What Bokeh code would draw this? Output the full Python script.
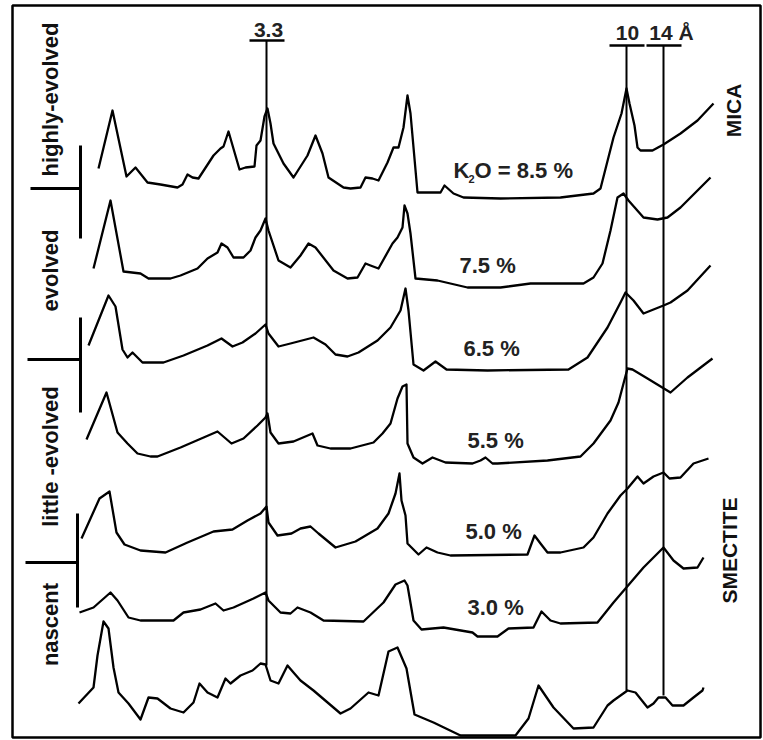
import math
from bokeh.plotting import figure
from bokeh.models import Range1d
from bokeh.core.properties import value
from bokeh.embed import file_html
from bokeh.resources import INLINE

# ---- XRD traces (x = position across pattern, y = plotted height, image-like units, top down)
t1_x = [98,112,126,135,147,160,177,182,187,192,198,213,220,223,228,239,245,254,256,260,264,267,270,273,283,293,300,307,315,322,328,343,350,360,365,372,378,387,393,398,403,407,410,417,440,444,453,463,500,560,593,600,613,621,626,629,634,637,640,652,663,680,697,713]
t1_y = [168,110,176,167,182,184,187,184,174,177,178,155,148,146,131,169,167,166,145,140,116,108,123,143,163,177,166,155,135,153,177,187,188,187,177,178,180,162,147,147,127,95,113,192,192,185,193,197,198,197,193,188,137,113,88,103,125,147,150,150,144,133,120,103]

t2_x = [93,110,123,140,148,170,180,197,207,217,221,227,233,243,250,255,260,265,268,278,290,300,308,315,333,347,357,365,370,378,392,397,402,404,407,410,415,437,467,500,530,583,593,602,610,617,623,628,643,657,667,680,697,710]
t2_y = [268,200,271,273,278,278,275,268,258,252,243,247,257,257,250,237,230,218,230,260,267,255,243,247,270,278,277,263,265,268,243,237,227,205,213,233,278,280,287,287,283,283,277,263,230,197,193,200,217,219,217,207,190,177]

t3_x = [88,108,115,122,127,132,142,163,183,207,221,232,242,255,265,268,278,290,313,325,335,347,358,377,390,400,405,408,413,423,435,446,487,568,587,607,620,625,633,643,663,670,687,710]
t3_y = [345,295,306,349,357,352,362,362,355,345,338,346,342,333,324,333,346,343,337,344,354,356,352,340,327,310,288,310,364,370,361,369,370,369,357,327,302,292,300,313,305,302,290,265]

t4_x = [86,106,117,127,137,150,157,180,217,231,243,257,265,267,270,278,293,312,317,330,350,373,382,390,397,402,406,407,413,422,432,445,472,480,485,492,497,547,580,593,610,618,623,627,632,647,670,687,712]
t4_y = [439,392,432,443,453,456,456,447,431,443,438,425,417,413,432,443,441,433,445,448,448,442,433,423,398,386,384,443,457,463,457,462,463,460,457,463,463,460,456,443,420,402,383,368,369,378,392,377,358]

t5_x = [81,99,109,116,124,140,165,187,213,232,247,260,266,268,277,291,300,310,318,335,355,377,388,395,399,401,405,407,418,426,437,450,527,534,540,547,560,583,593,607,620,627,637,643,653,663,669,680,693,708]
t5_y = [538,498,491,532,544,550,552,542,531,529,520,513,506,522,535,533,528,526,533,547,541,528,513,493,473,500,515,543,554,547,552,555,554,535,543,552,552,547,537,513,495,488,476,483,476,472,478,477,463,458]

t6_x = [79,93,110,117,128,140,173,183,200,215,223,233,253,265,268,280,290,297,310,323,363,383,395,404,407,413,421,443,472,477,497,508,533,541,550,560,597,613,625,643,663,673,683,697,703]
t6_y = [612,607,592,600,617,620,620,612,609,603,610,607,598,592,600,612,613,607,612,620,621,602,584,580,585,620,629,627,632,636,636,628,627,611,620,623,622,602,588,567,547,560,568,567,557]

t7_x = [78,93,97,103,108,113,118,128,140,148,157,170,183,193,199,207,217,225,230,240,252,260,265,270,278,287,293,300,313,340,350,368,378,388,397,406,414,433,460,515,528,538,553,573,593,607,613,627,635,647,653,658,665,672,683,693,702,703]
t7_y = [703,687,655,621,628,667,692,703,719,697,698,708,712,702,683,692,697,678,683,675,670,663,664,680,683,665,672,680,690,713,708,692,695,651,647,668,714,722,735,735,718,685,707,728,727,705,700,690,692,707,703,697,697,705,705,697,690,687]

traces_x = [t1_x, t2_x, t3_x, t4_x, t5_x, t6_x, t7_x]
traces_y = [t1_y, t2_y, t3_y, t4_y, t5_y, t6_y, t7_y]

# K2O labels
k2o_labels = ["7.5 %", "6.5 %", "5.5 %", "5.0 %", "3.0 %"]
k2o_x = [459, 463, 467, 465, 467]
k2o_y = [265, 348, 440, 531, 607]

# d-spacing reference lines
ref_labels = ["3.3", "10", "14 Å"]
ref_x = [266, 626, 663]
ref_top = [40, 45, 45]
ref_bottom = [665, 690, 695]
ref_label_x = [268, 627, 671]
ref_label_y = [29, 32, 32]

# evolution stages
stage_labels = ["highly-evolved", "evolved", "little -evolved", "nascent"]
stage_y = [99, 270, 456, 624]
bracket_x = [80, 80, 77]
bracket_top = [145, 317, 513]
bracket_bottom = [238, 412, 607]
bracket_tick_y = [188, 359, 562]
bracket_tick_left = [30, 27, 25]

FONT = value("Liberation Sans")

p = figure(width=763, height=740, x_range=Range1d(12, 760), y_range=Range1d(737, 5),
           output_backend="svg", toolbar_location=None,
           x_axis_location=None, y_axis_location=None,
           min_border_left=12, min_border_right=3, min_border_top=5, min_border_bottom=3)
p.xgrid.visible = False
p.ygrid.visible = False
p.outline_line_color = "black"
p.outline_line_width = 2.5
p.background_fill_color = "white"
p.border_fill_color = "white"

for xs, ys in zip(traces_x, traces_y):
    p.line(xs, ys, line_color="black", line_width=2.3, line_join="round")

# reference lines and bars
p.segment(x0=ref_x, y0=ref_top, x1=ref_x, y1=ref_bottom, line_color="black", line_width=2)
p.segment(x0=[x - 17 for x in ref_x], y0=ref_top, x1=[x + 18 for x in ref_x], y1=ref_top,
          line_color="black", line_width=2.3)
p.text(x=ref_label_x, y=ref_label_y, text=ref_labels, text_font=FONT, text_font_style="bold",
       text_font_size="21px", text_align="center", text_baseline="middle", text_color="#222")

# stage brackets
p.segment(x0=bracket_x, y0=bracket_top, x1=bracket_x, y1=bracket_bottom, line_color="black", line_width=3)
p.segment(x0=bracket_tick_left, y0=bracket_tick_y, x1=bracket_x, y1=bracket_tick_y, line_color="black", line_width=3)
p.text(x=[50] * len(stage_labels), y=stage_y, text=stage_labels, text_font=FONT, text_font_style="bold",
       text_font_size="22px", text_align="center", text_baseline="middle", angle=math.pi / 2,
       text_color="#111")

# mineral end-members
p.text(x=[733, 729], y=[110, 550], text=["MICA", "SMECTITE"], text_font=FONT, text_font_style="bold",
       text_font_size="21px", text_align="center", text_baseline="middle", angle=math.pi / 2,
       text_color="#111")

# K2O labels
p.text(x=k2o_x, y=k2o_y, text=k2o_labels, text_font=FONT, text_font_style="bold",
       text_font_size="22px", text_align="left", text_baseline="middle", text_color="#222")
p.text(x=[453], y=[170], text=["K"], text_font=FONT, text_font_style="bold",
       text_font_size="22px", text_align="left", text_baseline="middle", text_color="#222")
p.text(x=[468], y=[178], text=["2"], text_font=FONT, text_font_style="bold",
       text_font_size="11px", text_align="left", text_baseline="middle", text_color="#222")
p.text(x=[474], y=[170], text=["O = 8.5 %"], text_font=FONT, text_font_style="bold",
       text_font_size="22px", text_align="left", text_baseline="middle", text_color="#222")

open("out.html", "w").write(file_html(p, INLINE))
